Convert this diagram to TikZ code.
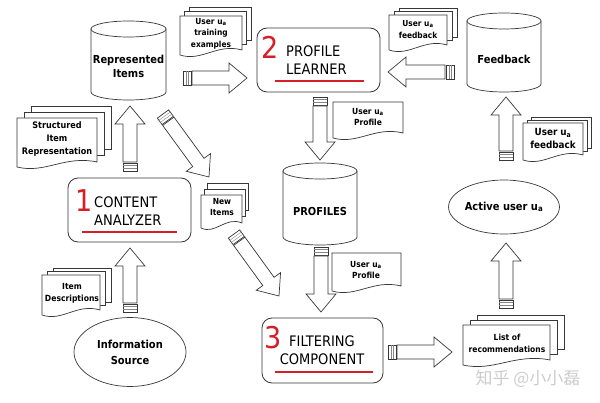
\documentclass[tikz,border=0pt]{standalone}
\usepackage{fontspec}
\setmainfont{DejaVu Sans Condensed}
\newfontfamily\cjkfont{Noto Sans CJK SC}
\usepackage{tikz}
\usetikzlibrary{shapes.geometric}
\usetikzlibrary{calc}
\definecolor{numred}{RGB}{214,30,38}
\definecolor{inkgray}{RGB}{55,55,55}

\newcommand{\ua}{u\textsubscript{a}}
% one page with a wavy lower edge
\newcommand{\docpage}[4]{%
  \draw[page] (#1,#2) -- ({#1+#3},#2) -- ({#1+#3},{#2+#4-5})
    .. controls ({#1+0.6*#3},{#2+#4-12}) and ({#1+0.35*#3},{#2+#4+7}) .. (#1,{#2+#4}) -- cycle;}
\newcommand{\docstack}[6]{%
  \draw[page] ({#1+2*#5},{#2-2*#6}) rectangle ++(#3,{#4-6});
  \draw[page] ({#1+#5},{#2-#6}) rectangle ++(#3,{#4-6});
  \docpage{#1}{#2}{#3}{#4}}
\newcommand{\cylinder}[4]{%
  \draw[page] ({#1-#4},{#2+8}) -- ({#1-#4},{#3-8})
    arc[start angle=180,end angle=0,x radius=#4,y radius=8] -- ({#1+#4},{#2+8});
  \draw[page] (#1,{#2+8}) ellipse[x radius=#4,y radius=8];}
\newcommand{\bigarrow}[2]{%
  \path let \p1=(#1), \p2=(#2), \n1={atan2(\y2-\y1,\x2-\x1)},
    \n2={veclen(\x2-\x1,\y2-\y1)} in (#1) pic[rotate=\n1] {hollowarr=\n2};}

\begin{document}
\begin{tikzpicture}[x=1pt,y=-1pt]
\tikzset{page/.style={draw=inkgray,line width=0.7pt,fill=white}}
\tikzset{hollowarr/.pic={
  \draw[page] (0,-7) rectangle (8,7);
  \draw[inkgray!60] (2.7,-7) -- (2.7,7) (5.3,-7) -- (5.3,7);
  \draw[page] (9,-7) -- ({#1-18},-7) -- ({#1-18},-15) -- (#1,0) -- ({#1-18},15) -- ({#1-18},7) -- (9,7) -- cycle;
}}
\tikzstyle{module}=[draw=inkgray,line width=0.8pt,rounded corners=10pt,minimum width=123pt,minimum height=64pt]
\tikzstyle{num}=[text=numred,font=\fontsize{30}{30}\selectfont,inner sep=0pt]
\tikzstyle{modlabel}=[font=\fontsize{14.5}{18}\selectfont,align=left,inner sep=0pt,anchor=west]
\tikzstyle{uline}=[numred,line width=2.2pt]
\tikzstyle{store}=[font=\bfseries\fontsize{11}{14}\selectfont,align=center,inner sep=0pt]
\tikzstyle{source}=[draw=inkgray,line width=0.7pt,ellipse,inner sep=0pt,font=\bfseries\fontsize{11}{16}\selectfont,align=center]
\tikzstyle{doctext}=[font=\bfseries\fontsize{8.3}{11.5}\selectfont,align=center,inner sep=0pt]

\useasboundingbox (0,0) rectangle (600,403);

% data stores
\cylinder{128.5}{21}{100}{37.5}
\node[store] (items) at (128.5,66) {Represented\\Items};
\cylinder{504}{13}{92}{37}
\node[store] (feedback) at (504,59) {Feedback};
\cylinder{320}{163}{245}{37}
\node[store] (profiles) at (320,211) {PROFILES};

% modules
\node[module] (ca) at (129.5,210) {};
\node[num] (ca-n) at (84.5,201) {1};
\node[modlabel] (ca-t) at (94,211) {CONTENT\\ANALYZER};
\draw[uline] (82,232) -- (177,232);

\node[module] (pl) at (318.5,60) {};
\node[num] (pl-n) at (270.5,47.5) {2};
\node[modlabel] (pl-t) at (286,60) {PROFILE\\LEARNER};
\draw[uline] (275,81) -- (364,81);

\node[module,minimum width=121pt,minimum height=65pt] (fc) at (322.5,350.5) {};
\node[num] (fc-n) at (273.5,338) {3};
\node[modlabel,anchor=center,align=center] (fc-t) at (322,350) {FILTERING\\COMPONENT};
\draw[uline] (275,372) -- (373,372);

% source and user
\node[source,minimum width=112pt,minimum height=69pt] (src) at (130,352) {Information\\Source};
\node[source,minimum width=94pt,minimum height=54pt] (user) at (504,207) {Active user \ua};

% documents
\docstack{180}{16}{62}{39}{4.5}{4.5}
\node[doctext] (train) at (211,33.5) {User \ua\\training\\examples};
\docstack{389}{15}{58}{35}{5}{3.5}
\node[doctext,font=\bfseries\fontsize{8.3}{12}\selectfont] (fbtop) at (418,30) {User \ua\\feedback};
\docstack{17}{118}{80}{49}{7}{6}
\node[doctext,font=\bfseries\fontsize{9}{13}\selectfont] (struct) at (57,139) {Structured\\Item\\Representation};
\docstack{201}{195}{41}{33}{3}{6}
\node[doctext,font=\bfseries\fontsize{8.4}{11}\selectfont] (new) at (222,206.5) {New\\Items};
\docpage{333}{102}{70}{36}
\node[doctext,font=\bfseries\fontsize{8.4}{11}\selectfont] (prof1) at (368,117.5) {User \ua\\Profile};
\docpage{332}{253}{69}{38}
\node[doctext,font=\bfseries\fontsize{8.4}{11}\selectfont] (prof2) at (366,269.5) {User \ua\\Profile};
\docstack{523}{123}{60}{37}{4}{3}
\node[doctext,font=\bfseries\fontsize{9.8}{13}\selectfont] (fbright) at (553,138.5) {User \ua\\feedback};
\docstack{42}{275}{58}{40}{5.5}{3.5}
\node[doctext,font=\bfseries\fontsize{8.5}{12}\selectfont] (desc) at (72,293) {Item\\Descriptions};
\docstack{463}{325}{87}{40}{7}{5}
\node[doctext,font=\bfseries\fontsize{8.4}{12}\selectfont] (recs) at (507,343) {List of\\recommendations};

% flow arrows
\coordinate (ca-out) at (130,171);  \coordinate (items-in) at (130,106);
\coordinate (items-out) at (163,114); \coordinate (new-in) at (209,177);
\coordinate (train-out) at (183,78);  \coordinate (pl-in) at (247,78);
\coordinate (fb-out) at (454,72);     \coordinate (pl-in2) at (388,72);
\coordinate (pl-out) at (320,97);     \coordinate (prof-in) at (320,160);
\coordinate (user-fb) at (506,160);   \coordinate (fb-in) at (506,97);
\coordinate (src-out) at (130,312);   \coordinate (ca-in) at (130,248);
\coordinate (new-out) at (234,234);   \coordinate (fc-in) at (279,296);
\coordinate (prof-out) at (321,247);  \coordinate (fc-in2) at (321,312);
\coordinate (fc-out) at (388,352);    \coordinate (recs-in) at (452,352);
\coordinate (recs-out) at (506,308);  \coordinate (user-in) at (506,243);
\bigarrow{ca-out}{items-in}
\bigarrow{items-out}{new-in}
\bigarrow{train-out}{pl-in}
\bigarrow{fb-out}{pl-in2}
\bigarrow{pl-out}{prof-in}
\bigarrow{user-fb}{fb-in}
\bigarrow{src-out}{ca-in}
\bigarrow{new-out}{fc-in}
\bigarrow{prof-out}{fc-in2}
\bigarrow{fc-out}{recs-in}
\bigarrow{recs-out}{user-in}

\node[text=gray!40,font=\cjkfont\fontsize{17}{17}\selectfont] (mark) at (528,379) {知乎 @小小磊};
\end{tikzpicture}
\end{document}
